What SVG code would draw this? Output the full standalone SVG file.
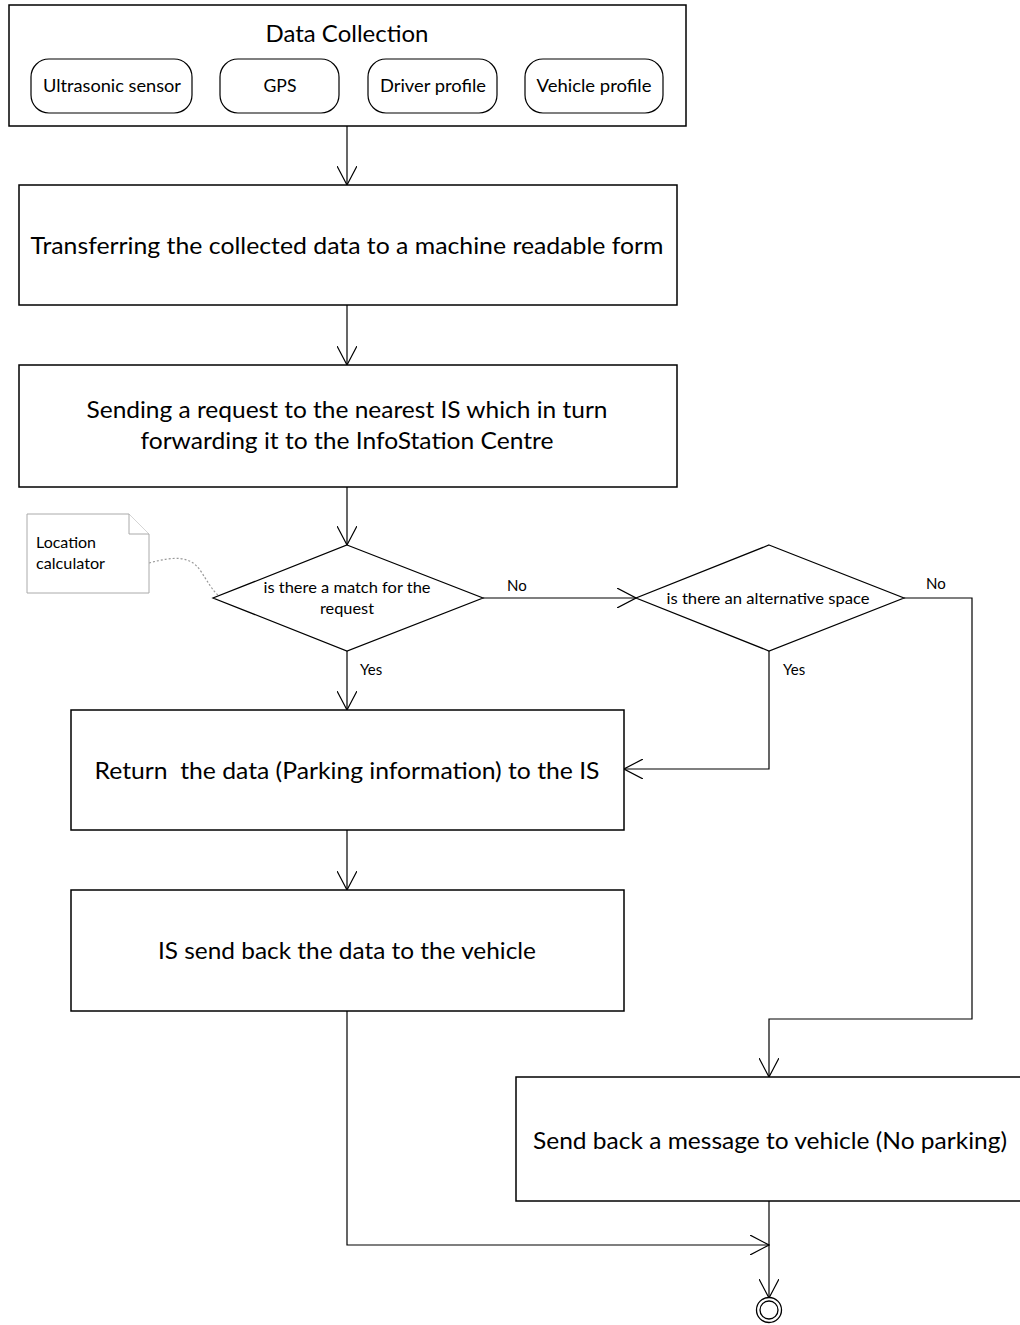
<svg xmlns="http://www.w3.org/2000/svg" width="1020" height="1325" viewBox="0 0 1020 1325">
<style>
.box{fill:#fff;stroke:#000;stroke-width:1.5}
.rbox{fill:#fff;stroke:#000;stroke-width:1.2}
.t{font-family:Lato,"Open Sans","Liberation Sans",sans-serif;fill:#000;text-anchor:middle}
.big{font-size:23px}
.mid{font-size:16.5px}
.sm{font-size:15px}
.lbl{font-size:15px;text-anchor:start}
.c{fill:none;stroke:#000;stroke-width:1.2}
.note{fill:#fff;stroke:#aaa;stroke-width:1}
</style>
<defs>
<marker id="ah" viewBox="0 0 20 20" refX="19" refY="10" markerWidth="20" markerHeight="20" markerUnits="userSpaceOnUse" orient="auto">
<path d="M0,0 L19,10 L0,20" fill="none" stroke="#000" stroke-width="1.2"/>
</marker>
</defs>
<g id="connectors">
<line class="c" x1="347" y1="126" x2="347" y2="185" marker-end="url(#ah)"/>
<line class="c" x1="347" y1="305" x2="347" y2="365" marker-end="url(#ah)"/>
<line class="c" x1="347" y1="487" x2="347" y2="545" marker-end="url(#ah)"/>
<line class="c" x1="483" y1="598" x2="636" y2="598" marker-end="url(#ah)"/>
<line class="c" x1="347" y1="651" x2="347" y2="710" marker-end="url(#ah)"/>
<polyline class="c" points="769,651 769,769 624,769" marker-end="url(#ah)"/>
<polyline class="c" points="904,598 972,598 972,1019 769,1019 769,1077" marker-end="url(#ah)"/>
<line class="c" x1="347" y1="830" x2="347" y2="890" marker-end="url(#ah)"/>
<polyline class="c" points="347,1011 347,1245 769,1245" marker-end="url(#ah)"/>
<line class="c" x1="769" y1="1201" x2="769" y2="1298" marker-end="url(#ah)"/>
<path d="M149,563 C175,556 190,556 200,570 C208,582 212,590 218,595" fill="none" stroke="#999" stroke-width="1.2" stroke-dasharray="2,2"/>
<text class="t lbl" x="507" y="591">No</text>
<text class="t lbl" x="926" y="589">No</text>
<text class="t lbl" x="360" y="675">Yes</text>
<text class="t lbl" x="783" y="675">Yes</text>
</g>
<g id="data-collection">
<rect class="box" x="9" y="5" width="677" height="121"/>
<text class="t big" x="347" y="42" textLength="163" lengthAdjust="spacingAndGlyphs">Data Collection</text>
</g>
<g id="ultrasonic">
<rect class="rbox" x="31" y="59" width="161" height="54" rx="18"/>
<text class="t mid" x="112" y="92" textLength="138" lengthAdjust="spacingAndGlyphs">Ultrasonic sensor</text>
</g>
<g id="gps">
<rect class="rbox" x="220" y="59" width="119" height="54" rx="18"/>
<text class="t mid" x="280" y="92" textLength="33" lengthAdjust="spacingAndGlyphs">GPS</text>
</g>
<g id="driver">
<rect class="rbox" x="368" y="59" width="129" height="54" rx="18"/>
<text class="t mid" x="433" y="92" textLength="106" lengthAdjust="spacingAndGlyphs">Driver profile</text>
</g>
<g id="vehicle">
<rect class="rbox" x="525" y="59" width="138" height="54" rx="18"/>
<text class="t mid" x="594" y="92" textLength="115" lengthAdjust="spacingAndGlyphs">Vehicle profile</text>
</g>
<g id="transfer">
<rect class="box" x="19" y="185" width="658" height="120"/>
<text class="t big" x="347" y="254" textLength="633" lengthAdjust="spacingAndGlyphs">Transferring the collected data to a machine readable form</text>
</g>
<g id="sending">
<rect class="box" x="19" y="365" width="658" height="122"/>
<text class="t big" x="347" y="418" textLength="521" lengthAdjust="spacingAndGlyphs">Sending a request to the nearest IS which in turn</text>
<text class="t big" x="347" y="449" textLength="413" lengthAdjust="spacingAndGlyphs">forwarding it to the InfoStation Centre</text>
</g>
<g id="note">
<path class="note" d="M27,514 H129 L149,534 V593 H27 Z"/>
<path class="note" d="M129,514 V534 H149" fill="none"/>
<text class="t sm" x="36" y="548" style="text-anchor:start" textLength="60" lengthAdjust="spacingAndGlyphs">Location</text>
<text class="t sm" x="36" y="569" style="text-anchor:start" textLength="69" lengthAdjust="spacingAndGlyphs">calculator</text>
</g>
<g id="decision-match">
<polygon class="rbox" points="347,545 483,598 347,651 213,598"/>
<text class="t sm" x="347" y="593" textLength="167" lengthAdjust="spacingAndGlyphs">is there a match for the</text>
<text class="t sm" x="347" y="614" textLength="54" lengthAdjust="spacingAndGlyphs">request</text>
</g>
<g id="decision-alt">
<polygon class="rbox" points="769,545 904,598 769,651 636,598"/>
<text class="t sm" x="768" y="604" textLength="203" lengthAdjust="spacingAndGlyphs">is there an alternative space</text>
</g>
<g id="return">
<rect class="box" x="71" y="710" width="553" height="120"/>
<text class="t big" x="347" y="779" textLength="505" lengthAdjust="spacingAndGlyphs" xml:space="preserve">Return  the data (Parking information) to the IS</text>
</g>
<g id="send-back">
<rect class="box" x="71" y="890" width="553" height="121"/>
<text class="t big" x="347" y="959" textLength="378" lengthAdjust="spacingAndGlyphs">IS send back the data to the vehicle</text>
</g>
<g id="no-parking">
<rect class="box" x="516" y="1077" width="510" height="124"/>
<text class="t big" x="770" y="1149" textLength="474" lengthAdjust="spacingAndGlyphs">Send back a message to vehicle (No parking)</text>
</g>
<g id="final">
<circle cx="769" cy="1310" r="12.5" fill="#fff" stroke="#000" stroke-width="1.3"/>
<circle cx="769" cy="1310" r="9" fill="#fff" stroke="#000" stroke-width="1.3"/>
</g>
</svg>
